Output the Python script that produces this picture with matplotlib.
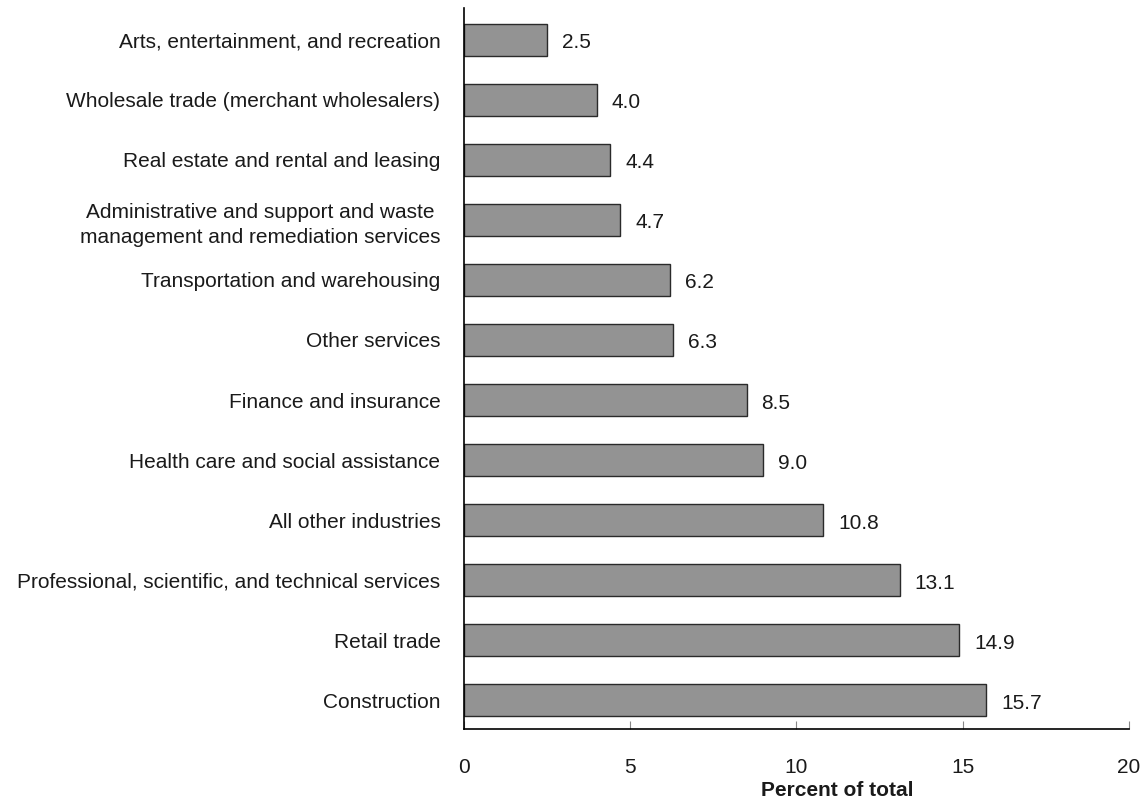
import numpy as np
import matplotlib.pyplot as plt

plt.rcParams['font.family'] = ['Liberation Sans', 'DejaVu Sans']

industries = [
    "Construction",
    "Retail trade",
    "Professional, scientific, and technical services",
    "All other industries",
    "Health care and social assistance",
    "Finance and insurance",
    "Other services",
    "Transportation and warehousing",
    "Administrative and support and waste \nmanagement and remediation services",
    "Real estate and rental and leasing",
    "Wholesale trade (merchant wholesalers)",
    "Arts, entertainment, and recreation",
]
percent = [15.7, 14.9, 13.1, 10.8, 9.0, 8.5, 6.3, 6.2, 4.7, 4.4, 4.0, 2.5]
xticks = [0, 5, 10, 15, 20]

fig = plt.figure(figsize=(11.48, 8), dpi=100)
ax = fig.add_axes([0.4042, 0.08875, 0.5792, 0.90125])

y = np.arange(len(industries))
ax.barh(y, percent, height=0.53, color='#939393', edgecolor='#2a2a2a', linewidth=1.0)

for yi, v in zip(y, percent):
    ax.text(v + 0.45, yi - 0.05, f"{v:.1f}", va='center', ha='left', fontsize=15, color='#1a1a1a')

ax.set_xlim(0, 20)
ax.set_ylim(-0.483, len(industries) - 1 + 0.533)
ax.set_xticks(xticks)
ax.set_xticklabels([str(t) for t in xticks], fontsize=15, color='#1a1a1a')
ax.set_yticks(y)
ax.set_yticklabels(industries, fontsize=15, color='#1a1a1a')
for lab in ax.get_yticklabels():
    if "\n" in lab.get_text():
        lab.set_linespacing(1.4)

ax.tick_params(axis='y', length=0, pad=17)
ax.tick_params(axis='x', direction='in', length=6, width=0.8, color='#888888', pad=21)

for s in ['top', 'right']:
    ax.spines[s].set_visible(False)
for s in ['left', 'bottom']:
    ax.spines[s].set_linewidth(1.2)
    ax.spines[s].set_color('black')

ax.set_xlabel("Percent of total", fontsize=15, fontweight='bold', color='#1a1a1a')
ax.xaxis.set_label_coords(0.562, -0.072)

fig.savefig("out.png", dpi=100)
